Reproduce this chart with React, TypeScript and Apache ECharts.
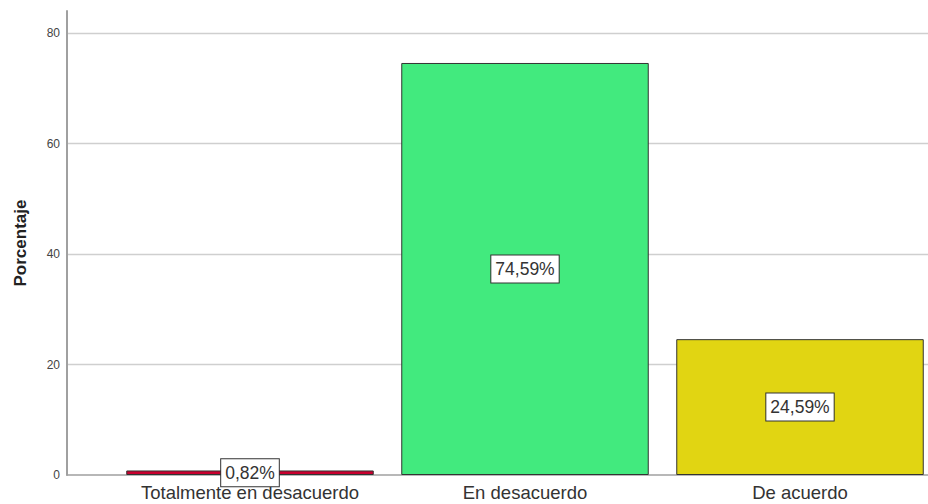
import React, { useEffect, useRef } from "react";
import * as echarts from "echarts";

const categories = ["Totalmente en desacuerdo", "En desacuerdo", "De acuerdo"];
const values = [0.82, 74.59, 24.59];
const labels = ["0,82%", "74,59%", "24,59%"];
const colors = ["#c8002e", "#42ea7e", "#e1d512"];
const yTicks = [0, 20, 40, 60, 80];

export default function App() {
  const ref = useRef<HTMLDivElement>(null);
  useEffect(() => {
    const chart = echarts.init(ref.current!, null, { renderer: "svg" });
    const font = "Arial, 'Liberation Sans', sans-serif";
    chart.setOption({
      animation: false,
      backgroundColor: "#ffffff",
      textStyle: { fontFamily: font },
      grid: [
        { left: 67, right: 10, top: 11, bottom: 29 },
        { left: 112.5, right: 0.5, top: 11, bottom: 29 },
      ],
      xAxis: [
        {
          gridIndex: 0,
          type: "value",
          min: 0,
          max: 1,
          axisLine: { show: true, lineStyle: { color: "#a0a0a0", width: 1.5 } },
          axisTick: { show: false },
          axisLabel: { show: false },
          splitLine: { show: false },
        },
        {
          gridIndex: 1,
          type: "category",
          data: categories,
          axisLine: { show: false },
          axisTick: { show: false },
          axisLabel: { color: "#333", fontSize: 18.5, margin: 8, interval: 0, hideOverlap: false, fontFamily: font },
        },
      ],
      yAxis: [
        {
          gridIndex: 0,
          type: "value",
          min: 0,
          max: 84,
          interval: 20,
          name: "Porcentaje",
          nameLocation: "middle",
          nameGap: 38,
          nameTextStyle: { fontSize: 17, fontWeight: "bold", color: "#222", fontFamily: font },
          axisLine: { show: true, lineStyle: { color: "#a0a0a0", width: 2 } },
          axisTick: { show: false },
          axisLabel: {
            color: "#444",
            fontSize: 12,
            margin: 7,
            showMaxLabel: false,
            formatter: (v: number) => (yTicks.includes(v) ? String(v) : ""),
          },
          splitLine: { show: true, showMinLine: false, showMaxLine: false, lineStyle: { color: "#cfcfcf", width: 1.3 } },
        },
        {
          gridIndex: 1,
          type: "value",
          min: 0,
          max: 84,
          show: false,
        },
      ],
      series: [
        {
          type: "bar",
          xAxisIndex: 1,
          yAxisIndex: 1,
          barCategoryGap: "10%",
          data: values.map((v, i) => ({
            value: v,
            itemStyle: { color: colors[i], borderColor: "#333", borderWidth: 1 },
          })),
          label: {
            show: true,
            position: "inside",
            formatter: (p: any) => labels[p.dataIndex],
            color: "#333",
            fontSize: 17.5,
            fontFamily: font,
            backgroundColor: "#ffffff",
            borderColor: "#333",
            borderWidth: 1,
            padding: [5, 4, 4, 4],
          },
        },
      ],
    });
    return () => chart.dispose();
  }, []);
  return (
    <div style={{ position: "fixed", left: 0, top: 0, width: 928, height: 504, overflow: "hidden" }}>
      <div ref={ref} style={{ width: 938, height: 504 }} />
    </div>
  );
}
